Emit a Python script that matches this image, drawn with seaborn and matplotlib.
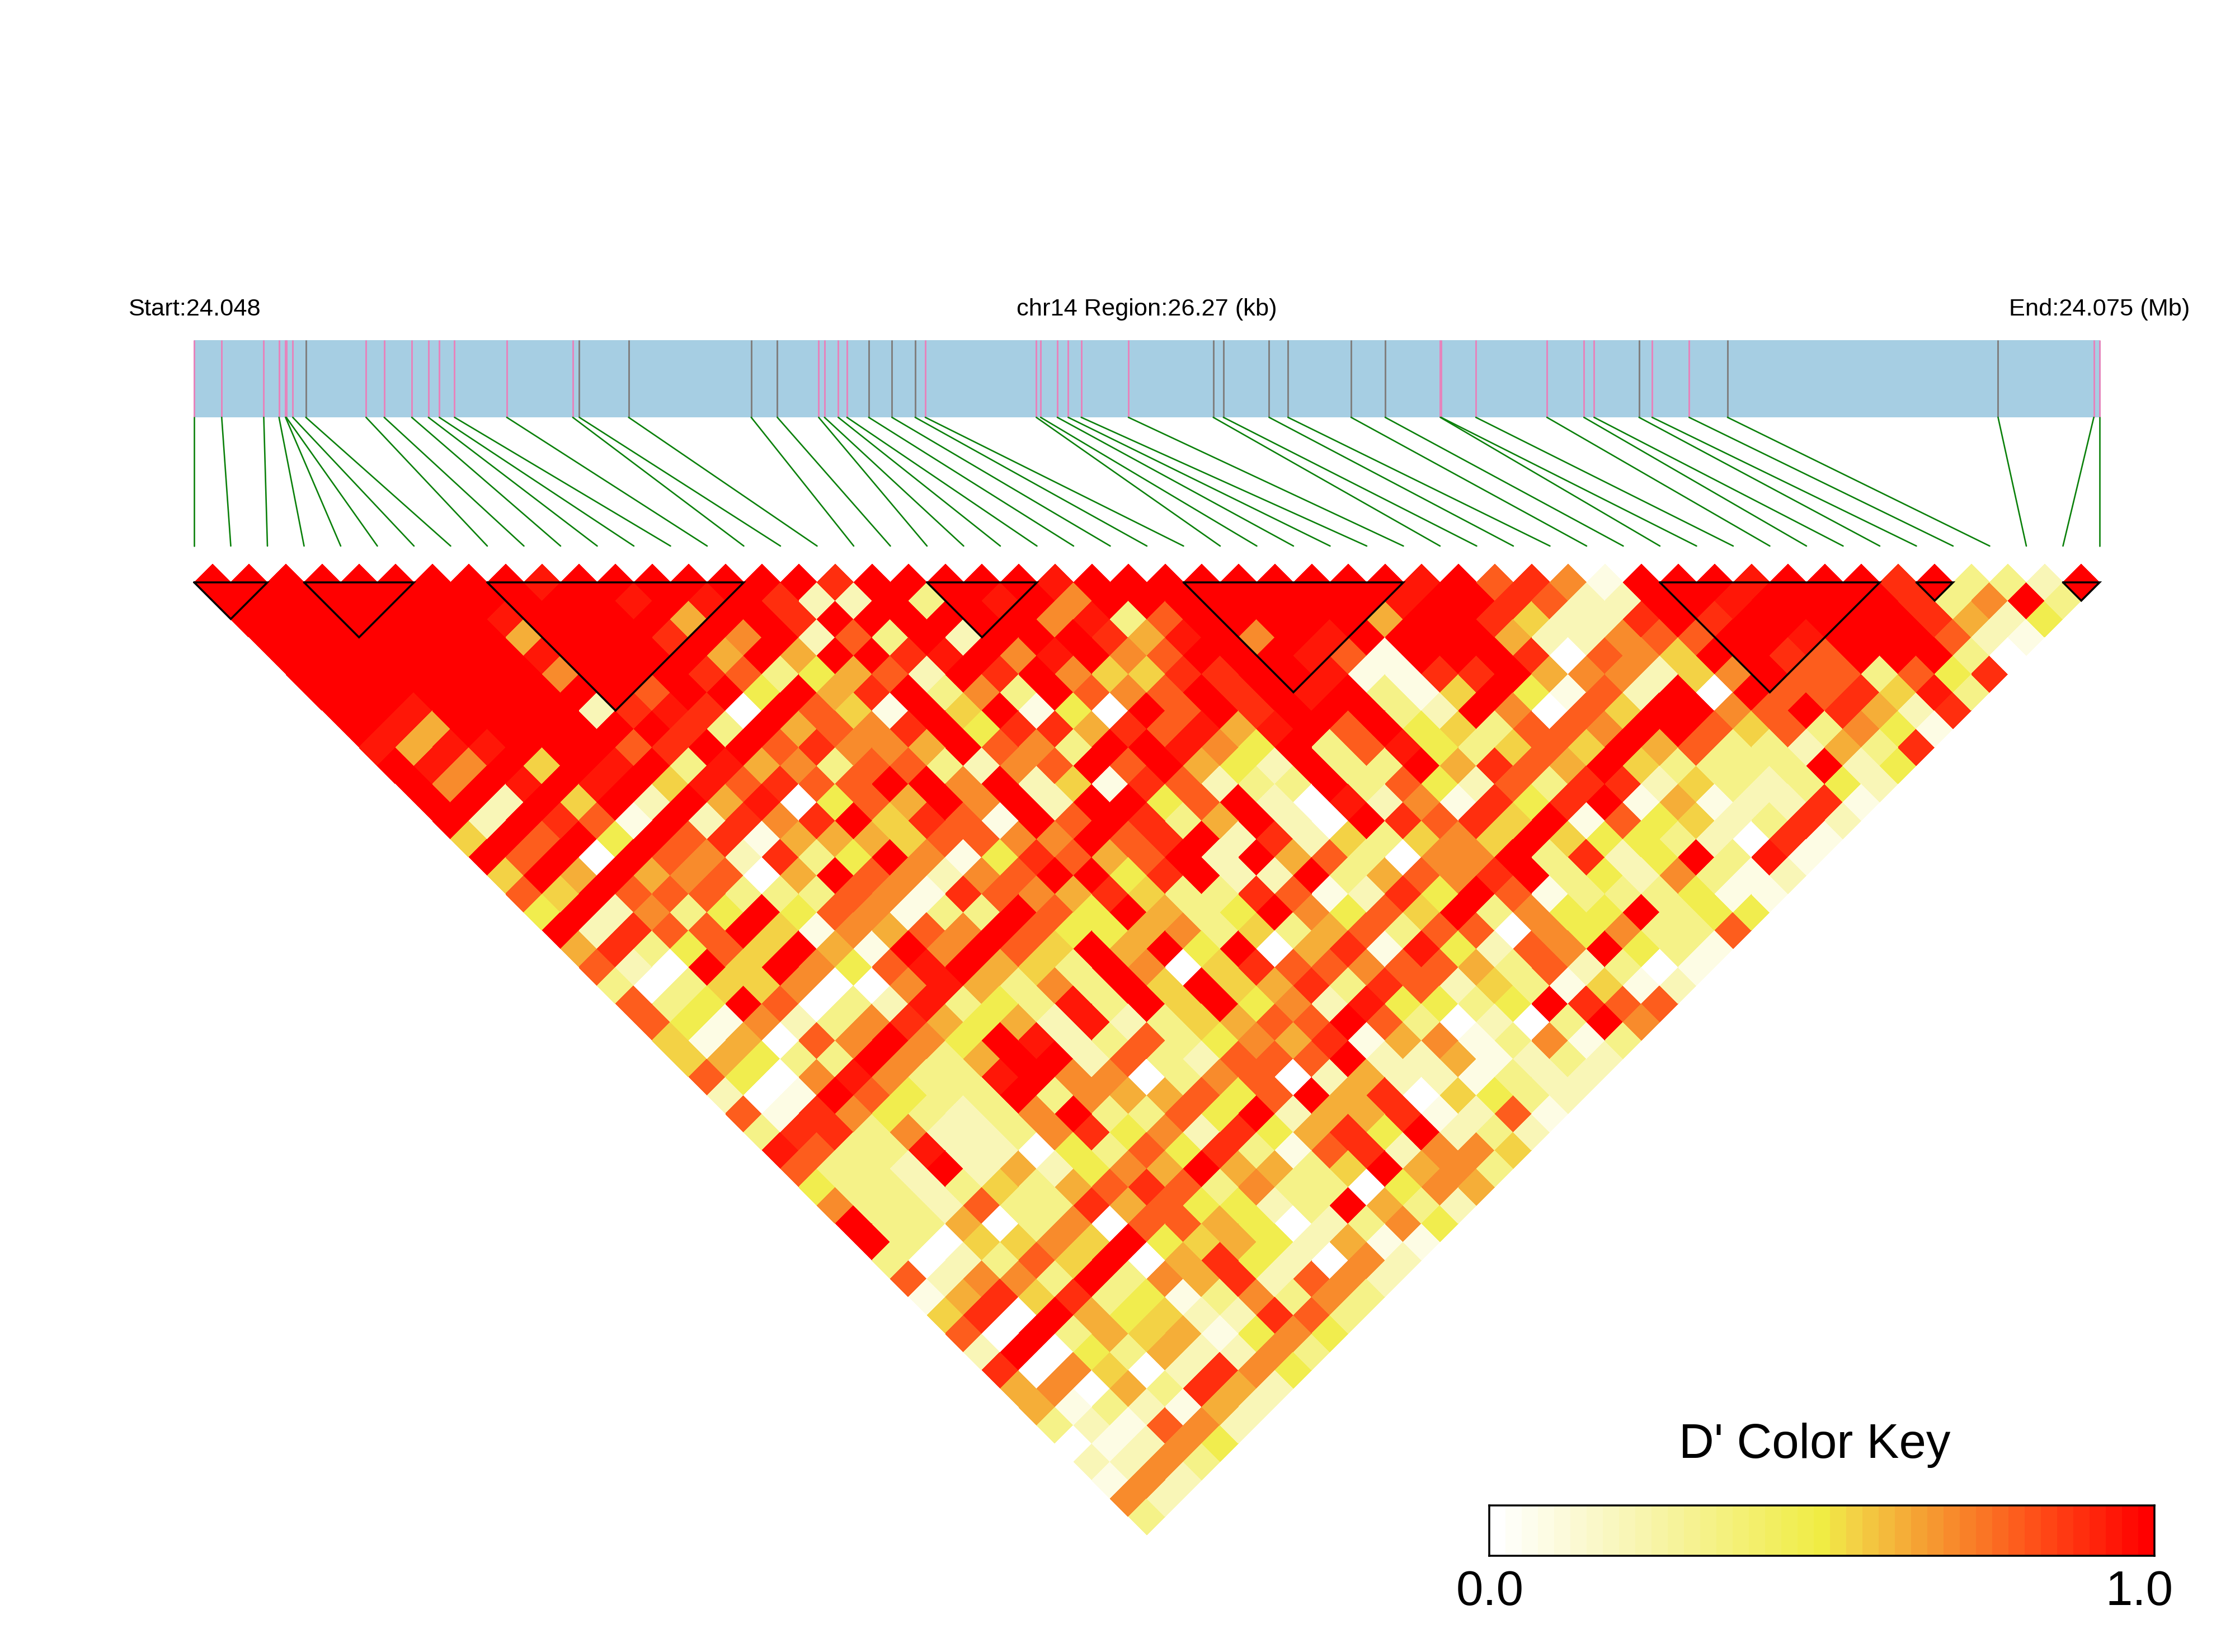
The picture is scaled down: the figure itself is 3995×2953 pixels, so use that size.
import matplotlib
matplotlib.use('Agg')
import matplotlib.pyplot as plt
from matplotlib.colors import LinearSegmentedColormap
from matplotlib.transforms import Affine2D
import numpy as np
import seaborn as sb

# D' per SNP pair, one string per distance between SNPs (1 = neighbours)
# each character is an index into dprime_levels
ld_rows = [
    "XXXXXXXXXRXXXXXXX9XXXXXRXXXXXXXXXRX8971XXXRXXX9X332X",
    "XXXXXXXXXXXRXRX922X3XRX7XXXXXXXXRXX9822XXRXXXX937X3",
    "XXXXXXXRXXXX6XX9XXXXXX7R38XXXXX6XX95229X9XXXXX9624",
    "XXXXXXX6XXX9X7X283X2XXX96RX7XRXXXX622788XXRXXX821",
    "XXXXXXXRXXXX6X6XX9RX7RX78XXXR81XXX90875XX98XXX30",
    "XXXXXXX7XXX9834682X9X75599XXR1199X677257X883849",
    "XXXXXXXXX8XX4X69X373X878X9XRX315X4182X0X8895R3",
    "XXRXXXX29R90X851X5X140X8X9XXX32X7085XX78X9629",
    "XR6XXXXXX93X6879X499698R6RX8X453887XX8583741",
    "R6RRXXX89XX89776X873XXR74X38R43585X68332639",
    "XR7X5XRX3R673883278X8X642X33X6986X53333X24",
    "X7XRXRX5R8988XX7X25198233X384283992532342",
    "XX2X5X2X6R0486X7X2XX48X20R271949X1612291",
    "X2X981X2979X5981X8X936X20X9895X18452392",
    "5X8X4X89166658877X89X29253575X54432091",
    "X8X0X872934X7149868X2X683077X3924X3R1",
    "5X6X67806X87278XX49X22X36879X3427312",
    "85X88833387198769533981294X81333411",
    "4X2734X487133X84X634X7485X3744X344",
    "X2988X517687X84467353683880747338",
    "693485X61X7X85X6X4X0691R4287X431",
    "820X5X748RX653X7059887886382301",
    "303557007R6373X5X5693982531512",
    "834X8032R343R3X5X472R4434X988",
    "841723796462R235688X830203X7",
    "516087X74XR2383476916713713",
    "56433X736XX2832888X2261232",
    "8407R733RX770378026221322",
    "201X8433X3766848X6905432",
    "819743237X3384X26691281",
    "399372237947294694X232",
    "R833R2204384931892775",
    "8332X262476X6635X673",
    "4332353689837330476",
    "73328339684423X632",
    "X3360370886402374",
    "X305575X45642611",
    "302385X06942072",
    "82773X37692872",
    "1695934137373",
    "590X64522983",
    "80X36561474",
    "2X04362273",
    "907502974",
    "67063962",
    "6132162",
    "321872",
    "01274",
    "2273",
    "172",
    "72",
    "3",
]
level_codes = "0123456789RX"
dprime_levels = [0, 0.08, 0.2, 0.33, 0.48, 0.55, 0.62, 0.7, 0.79, 0.88, 0.94, 1.0]

# SNP positions along the region, in kb from the start
snp_kb = [0.00, 0.38, 0.96, 1.17, 1.26, 1.27, 1.36, 1.54, 2.37, 2.62, 3.00, 3.23, 3.38,
          3.59, 4.31, 5.22, 5.31, 5.99, 7.68, 8.04, 8.61, 8.69, 8.88, 9.00, 9.30, 9.62,
          9.94, 10.08, 11.61, 11.67, 11.90, 12.05, 12.23, 12.88, 14.05, 14.19, 14.82,
          15.08, 15.95, 16.42, 17.18, 17.19, 17.67, 18.65, 19.16, 19.30, 19.92, 20.10,
          20.61, 21.14, 24.87, 26.19, 26.27]
# 1 = pink tick, 0 = grey tick
snp_pink = [1, 1, 1, 1, 1, 1, 1, 0, 1, 1, 1, 1, 1, 1, 1, 1, 0, 0, 0, 0, 1, 1, 1, 1, 0, 0, 0,
            1, 1, 1, 1, 1, 1, 1, 0, 0, 0, 0, 0, 0, 1, 1, 1, 1, 1, 1, 0, 1, 1, 0, 0, 1, 1]
region_kb = 26.27

# haplotype blocks as first and last edge index
block_start = [0, 3, 8, 20, 27, 40, 47, 51]
block_end = [2, 6, 15, 23, 33, 46, 48, 52]

start_label = "Start:24.048"
region_label = "chr14 Region:26.27 (kb)"
end_label = "End:24.075 (Mb)"
key_title = "D' Color Key"
key_ticks = ["0.0", "1.0"]

W, H = 3995, 2953
DPI = 300
LEFT, RIGHT = 347, 3753
CELL = (RIGHT - LEFT) / 52
TOP_ROW = 1041
BAR_TOP, BAR_BOTTOM = 608, 746
LINK_BOTTOM = 976

ld_cmap = LinearSegmentedColormap.from_list('ld', [
    (0, '#FFFFFF'), (0.22, '#F8F5B0'), (0.5, '#F0EC44'), (0.55, '#F3D245'),
    (0.65, '#F5A233'), (0.75, '#FA7525'), (0.85, '#FF4515'), (1, '#FF0000')], N=41)


def fpx(px):
    return px * 72 / DPI


n = len(ld_rows)
matrix = np.full((n, n), np.nan)
for r, row in enumerate(ld_rows):
    for k, code in enumerate(row):
        matrix[k, k + r] = dprime_levels[level_codes.index(code)]

sb.set_style('white')
plt.rcParams['font.family'] = ['Liberation Sans', 'DejaVu Sans']
plt.rcParams['text.color'] = 'black'

fig = plt.figure(figsize=(W / DPI, H / DPI), dpi=DPI, facecolor='white')
ax = fig.add_axes([0, 0, 1, 1])

sb.heatmap(matrix, mask=np.isnan(matrix), cmap=ld_cmap, vmin=0, vmax=1, cbar=False,
           xticklabels=False, yticklabels=False, ax=ax, antialiased=False)

# turn the square matrix by 45 degrees so the diagonal lies along the top
half = CELL / 2
turn = Affine2D.from_values(half, half, half, -half, LEFT, TOP_ROW) + ax.transData
ax.collections[0].set_transform(turn)

for s, e in zip(block_start, block_end):
    ax.plot([s, e, e, s], [s, e, s, s], color='black', lw=fpx(3.5), transform=turn,
            solid_joinstyle='miter', zorder=5)

# gene bar with one tick per SNP and the links down to the matrix
ax.fill_between([LEFT, RIGHT], BAR_TOP, BAR_BOTTOM, color='#A6CEE3', lw=0, zorder=2)
tick_x = [LEFT + kb / region_kb * (RIGHT - LEFT) for kb in snp_kb]
tick_colors = ['#E584BC' if p else '#808080' for p in snp_pink]
ax.vlines(tick_x, BAR_TOP, BAR_BOTTOM, colors=tick_colors, lw=fpx(3), zorder=3)
for i, x in enumerate(tick_x):
    ax.plot([x, LEFT + i * CELL], [BAR_BOTTOM, LINK_BOTTOM], color='#0A800A', lw=fpx(2.6),
            zorder=3)

ax.set_xlim(0, W)
ax.set_ylim(H, 0)
ax.axis('off')

label_size = fpx(43.4)
ax.text(LEFT, 564, start_label, ha='center', va='baseline', fontsize=label_size)
ax.text((LEFT + RIGHT) / 2, 564, region_label, ha='center', va='baseline', fontsize=label_size)
ax.text(RIGHT, 564, end_label, ha='center', va='baseline', fontsize=label_size)

# colour key
key_left, key_right, key_top, key_bottom = 2662, 3851, 2691, 2781
cax = fig.add_axes([key_left / W, 1 - key_bottom / H, (key_right - key_left) / W,
                    (key_bottom - key_top) / H])
sb.heatmap(np.linspace(0, 1, 41).reshape(1, -1), cmap=ld_cmap, vmin=0, vmax=1, cbar=False,
           xticklabels=False, yticklabels=False, ax=cax)
for side in cax.spines.values():
    side.set_visible(True)
    side.set_color('black')
    side.set_linewidth(fpx(3.5))

key_size = fpx(87)
ax.text(3244, 2606, key_title, ha='center', va='baseline', fontsize=key_size)
ax.text(2663, 2869, key_ticks[0], ha='center', va='baseline', fontsize=key_size)
ax.text(3824, 2869, key_ticks[1], ha='center', va='baseline', fontsize=key_size)

fig.savefig('out.png', dpi=DPI, facecolor='white')
